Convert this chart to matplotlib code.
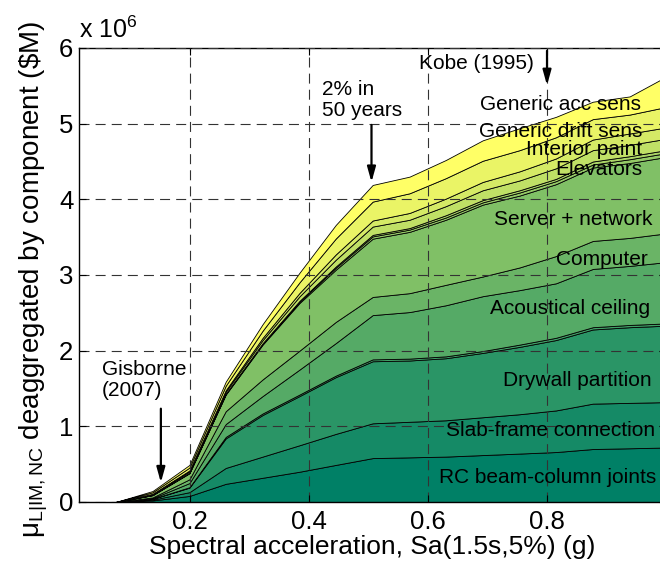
import numpy as np
import matplotlib.pyplot as plt

plt.rcParams['font.family'] = ['Liberation Sans', 'DejaVu Sans']
plt.rcParams['mathtext.fontset'] = 'custom'
plt.rcParams['mathtext.rm'] = 'Liberation Sans'
plt.rcParams['mathtext.it'] = 'Liberation Sans:italic'
plt.rcParams['mathtext.default'] = 'regular'

# spectral acceleration grid (g)
sa = [0.0134, 0.075, 0.137, 0.199, 0.26, 0.322, 0.384, 0.445, 0.507,
      0.569, 0.63, 0.692, 0.754, 0.815, 0.877, 0.939, 1.0]

# expected loss per component (x 10^6), bottom to top
rc_joints = [0, 0, 0.02, 0.08, 0.24, 0.32, 0.40, 0.49, 0.58, 0.59, 0.60, 0.62, 0.64, 0.66, 0.70, 0.71, 0.72]
slab_frame = [0, 0, 0.01, 0.05, 0.21, 0.28, 0.35, 0.41, 0.46, 0.47, 0.48, 0.50, 0.52, 0.55, 0.60, 0.60, 0.60]
drywall = [0, 0, 0.01, 0.06, 0.39, 0.55, 0.65, 0.75, 0.82, 0.81, 0.82, 0.85, 0.89, 0.93, 0.98, 1.00, 1.01]
drywall_finish = [0, 0, 0.003, 0.005, 0.02, 0.02, 0.02, 0.02, 0.025, 0.025, 0.025, 0.025, 0.03, 0.03, 0.03, 0.03, 0.03]
acoustical = [0, 0, 0.007, 0.055, 0.17, 0.23, 0.33, 0.43, 0.585, 0.615, 0.675, 0.725, 0.72, 0.72, 0.77, 0.78, 0.81]
computer = [0, 0, 0.01, 0.05, 0.17, 0.22, 0.25, 0.28, 0.24, 0.25, 0.27, 0.26, 0.30, 0.36, 0.37, 0.37, 0.38]
server = [0, 0, 0.03, 0.08, 0.22, 0.46, 0.63, 0.69, 0.77, 0.81, 0.86, 0.95, 0.95, 0.95, 0.97, 0.99, 1.01]
thin_a = [0, 0, 0.002, 0.005, 0.007, 0.011, 0.017, 0.025, 0.03, 0.03, 0.03, 0.03, 0.04, 0.04, 0.04, 0.05, 0.05]
thin_b = [0, 0, 0.002, 0.003, 0.005, 0.008, 0.011, 0.017, 0.02, 0.02, 0.03, 0.03, 0.03, 0.03, 0.04, 0.04, 0.04]
elevators = [0, 0, 0.008, 0.017, 0.026, 0.04, 0.06, 0.09, 0.11, 0.11, 0.12, 0.13, 0.13, 0.14, 0.15, 0.15, 0.15]
paint = [0, 0, 0.006, 0.012, 0.019, 0.03, 0.045, 0.07, 0.08, 0.09, 0.10, 0.11, 0.12, 0.13, 0.14, 0.15, 0.15]
drift_sens = [0, 0, 0.02, 0.038, 0.06, 0.095, 0.14, 0.21, 0.25, 0.26, 0.27, 0.28, 0.28, 0.28, 0.27, 0.25, 0.27]
acc_sens = [0, 0, 0.017, 0.035, 0.053, 0.086, 0.127, 0.18, 0.22, 0.22, 0.24, 0.27, 0.29, 0.27, 0.23, 0.24, 0.40]

layers = [rc_joints, slab_frame, drywall, drywall_finish, acoustical, computer, server,
          thin_a, thin_b, elevators, paint, drift_sens, acc_sens]

# label text, anchor x, anchor y, alignment
labels = [
    ("Generic acc sens", 0.958, 5.25, "right"),
    ("Generic drift sens", 0.961, 4.90, "right"),
    ("Interior paint", 0.960, 4.66, "right"),
    ("Elevators", 0.960, 4.40, "right"),
    ("Server + network", 0.978, 3.74, "right"),
    ("Computer", 0.970, 3.21, "right"),
    ("Acoustical ceiling", 0.973, 2.56, "right"),
    ("Drywall partition", 0.975, 1.61, "right"),
    ("Slab-frame connection", 0.630, 0.95, "left"),
    ("RC beam-column joints", 0.618, 0.32, "left"),
]

fig = plt.figure(figsize=(6.6, 5.68), dpi=100)
ax = fig.add_axes([0.1197, 0.1162, 0.8894, 0.7993])

colors = plt.cm.summer(np.linspace(0, 1, len(layers)))
ax.stackplot(sa, *layers, colors=colors, edgecolor="k", linewidth=0.6)

ax.set_xlim(0.0134, 1.0)
ax.set_ylim(0, 6)
ax.set_xticks([0.2, 0.4, 0.6, 0.8, 1.0])
ax.set_xticklabels(["0.2", "0.4", "0.6", "0.8", "1"])
ax.set_yticks(range(7))
ax.tick_params(direction="in", length=5, labelsize=18.5, top=True, right=True)
ax.tick_params(axis="x", pad=6)
ax.tick_params(axis="y", pad=4)
ax.set_axisbelow(False)
ax.grid(True, color="0.2", linewidth=0.8, linestyle=(0, (9, 5.5)))
for s in ax.spines.values():
    s.set_linewidth(1.0)

ax.text(0.0, 1.012, "x 10$^{6}$", transform=ax.transAxes, fontsize=18, ha="left", va="bottom")

ax.set_xlabel("Spectral acceleration, Sa(1.5s,5%) (g)", fontsize=19)
ax.xaxis.set_label_coords(0.5, -0.073)
ax.set_ylabel(r"$\mu_{L|IM,NC}$ deaggregated by component (\$M)", fontsize=20)
ax.yaxis.set_label_coords(-0.05, 0.49)

for txt, lx, ly, ha in labels:
    ax.text(lx, ly, txt, fontsize=15, ha=ha, va="center")

arrow = dict(arrowstyle="-|>,head_length=0.9,head_width=0.25", color="k", lw=1.6)
ax.annotate("", xy=(0.505, 4.19), xytext=(0.505, 5.02), arrowprops=arrow)
ax.text(0.422, 5.31, "2% in\n50 years", fontsize=15, ha="left", va="center", linespacing=1.15)

ax.annotate("", xy=(0.8, 5.47), xytext=(0.8, 6.0), arrowprops=arrow, annotation_clip=False)
ax.text(0.585, 5.8, "Kobe (1995)", fontsize=15, ha="left", va="center")

ax.annotate("", xy=(0.151, 0.22), xytext=(0.151, 1.27), arrowprops=arrow)
ax.text(0.052, 1.61, "Gisborne\n(2007)", fontsize=15, ha="left", va="center", linespacing=1.15)

fig.savefig("out.png", dpi=100)
